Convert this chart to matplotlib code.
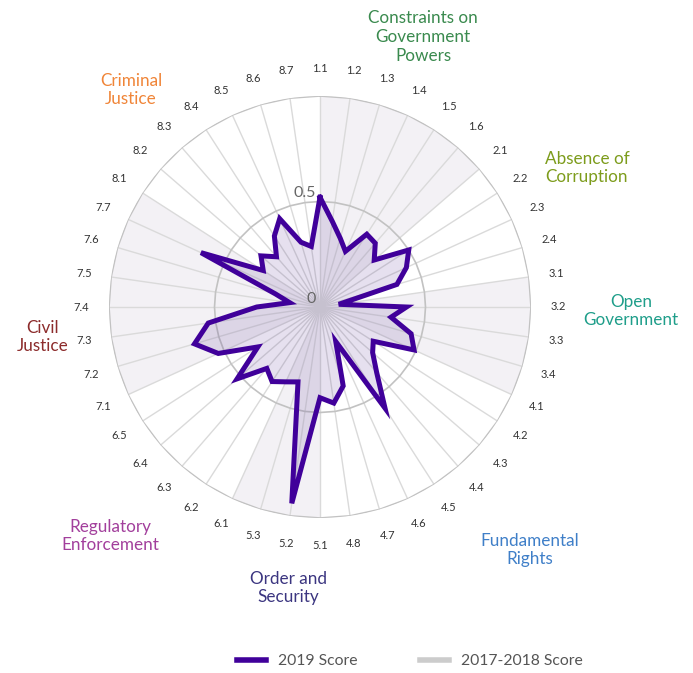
import numpy as np
import matplotlib.pyplot as plt
from matplotlib.lines import Line2D
from matplotlib.transforms import ScaledTranslation

plt.rcParams['font.family'] = ['Lato', 'DejaVu Sans']

# sub-factor labels, in drawing order (clockwise from the top)
sub_labels = ['1.1', '1.2', '1.3', '1.4', '1.5', '1.6',
              '2.1', '2.2', '2.3', '2.4',
              '3.1', '3.2', '3.3', '3.4',
              '4.1', '4.2', '4.3', '4.4', '4.5', '4.6', '4.7', '4.8',
              '5.1', '5.2', '5.3',
              '6.1', '6.2', '6.3', '6.4', '6.5',
              '7.1', '7.2', '7.3', '7.4', '7.5', '7.6', '7.7',
              '8.1', '8.2', '8.3', '8.4', '8.5', '8.6', '8.7']

score_2019 = [0.52, 0.41, 0.34, 0.29, 0.41, 0.40,
              0.34, 0.50, 0.45, 0.38,
              0.09, 0.41, 0.34, 0.45,
              0.49, 0.30, 0.33, 0.41, 0.57, 0.18, 0.39, 0.46,
              0.43, 0.94, 0.37,
              0.39, 0.42, 0.385, 0.52, 0.35,
              0.53, 0.62, 0.535, 0.30, 0.145, 0.22, 0.62,
              0.32, 0.37, 0.315, 0.40, 0.46, 0.32, 0.29]

factor_names = ['Constraints on\nGovernment\nPowers', 'Absence of\nCorruption',
                'Open\nGovernment', 'Fundamental\nRights', 'Order and\nSecurity',
                'Regulatory\nEnforcement', 'Civil\nJustice', 'Criminal\nJustice']
factor_colors = ['#3a8a4e', '#7d9c1c', '#1f9e8a', '#3f7fc8',
                 '#3b3580', '#a23f9c', '#8c2b2b', '#f08538']
# pixel positions of the factor titles
factor_pos = [(423, 37), (587, 168), (631, 311), (530, 550),
              (288, 588), (110, 536), (43, 337), (131, 90)]

legend_names = ['2019 Score', '2017-2018 Score']

n = len(sub_labels)
theta = np.arange(n) * 2 * np.pi / n
factor_of = [int(s.split('.')[0]) for s in sub_labels]
starts = [factor_of.index(f) for f in range(1, 9)] + [n]

W, H = 693, 673
fig = plt.figure(figsize=(W / 100, H / 100), dpi=100)
cx, cy, R = 320, 307, 211
ax = fig.add_axes([(cx - R) / W, (H - cy - R) / H, 2 * R / W, 2 * R / H],
                  projection='polar')
ax.set_theta_zero_location('N')
ax.set_theta_direction(-1)
ax.set_ylim(0, 1)
ax.axis('off')

# alternating factor bands
for k in range(8):
    if k % 2 == 0:
        a, b = starts[k], starts[k + 1]
        tt = np.concatenate([[0], theta[a:b], [theta[b % n]]])
        rr = np.concatenate([[0], np.ones(b - a + 1)])
        ax.fill(tt, rr, color='#f3f1f5', lw=0, zorder=0)

# spokes
for t in theta:
    ax.plot([t, t], [0, 1], color='#dadada', lw=1, zorder=1)

# polygon grid rings
tc = np.append(theta, theta[0])
for r in (0.5, 1.0):
    ax.plot(tc, np.full(n + 1, r), color='#c2c2c2', lw=1.2, zorder=1)

# 2019 series
vals = np.append(score_2019, score_2019[0])
ax.fill(tc, vals, color='#5a3596', alpha=0.15, lw=0, zorder=2)
ax.plot(tc, vals, color='#40009a', lw=3.6, solid_joinstyle='miter', zorder=3)

# axis value labels
ax.text(0, 0.5, '0.5', ha='right', va='bottom', fontsize=11.5, color='#666666',
        transform=ax.transData + ScaledTranslation(-3 / 72, 1 / 72, fig.dpi_scale_trans))
ax.text(0, 0, '0', ha='right', va='bottom', fontsize=11.5, color='#666666',
        transform=ax.transData + ScaledTranslation(-3 / 72, 1 / 72, fig.dpi_scale_trans))

# sub-factor labels
for t, lab in zip(theta, sub_labels):
    ax.text(t, 1.13, lab, ha='center', va='center', fontsize=8,
            color='#333333', clip_on=False)

# factor titles
for name, col, (px, py) in zip(factor_names, factor_colors, factor_pos):
    fig.text(px / W, 1 - py / H, name, ha='center', va='center', fontsize=12.3,
             color=col, linespacing=1.2)

handles = [Line2D([], [], color='#40009a', lw=4),
           Line2D([], [], color='#cccccc', lw=4)]
fig.legend(handles, legend_names, loc='center', bbox_to_anchor=(410 / W, 1 - 661 / H),
           ncol=2, frameon=False, fontsize=11.3, handlelength=1.85,
           handletextpad=0.75, columnspacing=4.0, labelcolor='#555555')

fig.savefig('out.png', dpi=100)
